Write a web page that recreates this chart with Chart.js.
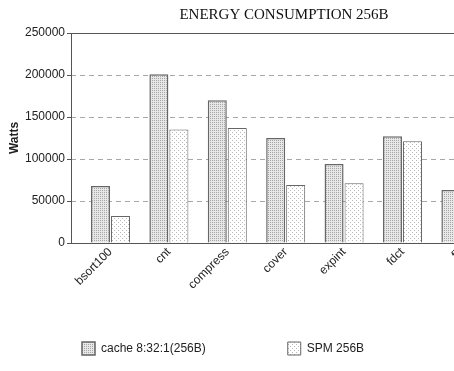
<!DOCTYPE html>
<html>
<head>
<meta charset="utf-8">
<title>Energy consumption 256B</title>
<script src="https://cdn.jsdelivr.net/npm/chart.js@4/dist/chart.umd.min.js"></script>
<style>
    html, body { margin: 0; padding: 0; background: #fff; overflow: hidden; }
    #wrap { width: 568px; height: 371px; }
</style>
</head>
<body>
<div id="wrap"><canvas id="energy-chart"></canvas></div>
<script>
const benchmarks = ['bsort100', 'cnt', 'compress', 'cover', 'expint', 'fdct', 'fir'];
const cacheWatts = [68000, 201000, 170000, 125000, 94000, 127000, 63000];
const spmWatts = [32000, 135000, 137000, 69000, 71000, 121000, null];
const yTicks = [0, 50000, 100000, 150000, 200000, 250000];
const seriesNames = ['cache 8:32:1(256B)', 'SPM 256B'];

// dotted fills like the printed figure
function makePattern(size, bg, dots, dotColor) {
    const c = document.createElement('canvas');
    c.width = size;
    c.height = size;
    const g = c.getContext('2d');
    g.fillStyle = bg;
    g.fillRect(0, 0, size, size);
    g.fillStyle = dotColor;
    dots.forEach(function (d) { g.fillRect(d[0], d[1], 1, 1); });
    return g.createPattern(c, 'repeat');
}

const ctx = document.getElementById('energy-chart').getContext('2d');
const densePattern = makePattern(2, '#e8e8e8', [[0, 0]], '#a4a4a4');
const sparsePattern = makePattern(4, '#ffffff', [[0, 0], [2, 2]], '#b8b8b8');

// box round the plot area
const framePlugin = {
    id: 'frame',
    afterDatasetsDraw(chart) {
        const a = chart.chartArea;
        const c = chart.ctx;
        c.save();
        c.strokeStyle = '#555';
        c.lineWidth = 1;
        c.strokeRect(Math.round(a.left) + 0.5, Math.round(a.top) + 0.5,
            Math.round(a.right - a.left), Math.round(a.bottom - a.top));
        c.restore();
    }
};

// legend sits a fixed distance under the plot, the big label padding only spreads the items
const legendGap = 17;
const legendPlugin = {
    id: 'legendPlace',
    afterLayout(chart) {
        const lg = chart.legend;
        const h = lg.bottom - lg.top;
        lg.top = chart.chartArea.bottom + legendGap;
        lg.bottom = lg.top + h;
    }
};

const plotLeft = 71;
const groupSpacing = 58.4;
const xMin = -0.676;
const xMax = xMin + (568 - plotLeft) / groupSpacing;

new Chart(ctx, {
    type: 'bar',
    data: {
        datasets: [{
            label: seriesNames[0],
            data: cacheWatts.map(function (v, i) { return { x: i, y: v }; }),
            backgroundColor: densePattern,
            borderColor: '#666',
            borderWidth: 1.5,
            categoryPercentage: 0.685,
            barPercentage: 0.95
        }, {
            label: seriesNames[1],
            data: spmWatts.map(function (v, i) { return { x: i, y: v }; }),
            backgroundColor: sparsePattern,
            borderColor: '#666',
            borderWidth: 1,
            categoryPercentage: 0.685,
            barPercentage: 0.95
        }]
    },
    options: {
        responsive: true,
        maintainAspectRatio: false,
        animation: false,
        layout: { padding: { top: 0, left: 0, right: 0, bottom: -37 } },
        plugins: {
            title: {
                display: true,
                text: 'ENERGY CONSUMPTION 256B',
                color: '#111',
                font: { family: 'Liberation Serif', size: 15, weight: 'normal' },
                padding: { top: 6, bottom: 9 }
            },
            legend: {
                position: 'bottom',
                align: 'start',
                labels: {
                    boxWidth: 13,
                    boxHeight: 13,
                    padding: 82,
                    color: '#222',
                    font: { family: 'Liberation Sans', size: 12 }
                }
            },
            tooltip: { enabled: false }
        },
        scales: {
            x: {
                type: 'linear',
                offset: false,
                min: xMin,
                max: xMax,
                afterBuildTicks: function (scale) {
                    scale.ticks = benchmarks.map(function (b, i) { return { value: i }; });
                },
                afterFit: function (scale) { scale.height = 60; },
                grid: { display: false, drawTicks: false, offset: false },
                border: { display: false },
                ticks: {
                    autoSkip: false,
                    maxRotation: 45,
                    minRotation: 45,
                    padding: 2,
                    color: '#222',
                    font: { family: 'Liberation Sans', size: 12 },
                    callback: function (value) {
                        return Number.isInteger(value) && benchmarks[value] !== undefined ? benchmarks[value] : '';
                    }
                }
            },
            y: {
                min: 0,
                max: 250000,
                afterBuildTicks: function (scale) {
                    scale.ticks = yTicks.map(function (v) { return { value: v }; });
                },
                afterFit: function (scale) { scale.width = plotLeft; },
                grid: {
                    color: '#a8a8a8',
                    lineWidth: 1,
                    tickLength: 4,
                    tickColor: '#555',
                    tickBorderDash: []
                },
                border: { display: false, dash: [5, 4] },
                ticks: {
                    padding: 2,
                    color: '#222',
                    font: { family: 'Liberation Sans', size: 12 },
                    callback: function (value) { return String(value); }
                },
                title: {
                    display: true,
                    text: 'Watts',
                    color: '#222',
                    font: { family: 'Liberation Sans', size: 12, weight: 'bold' },
                    padding: { top: 7, bottom: 0 }
                }
            }
        }
    },
    plugins: [framePlugin, legendPlugin]
});
</script>
</body>
</html>
